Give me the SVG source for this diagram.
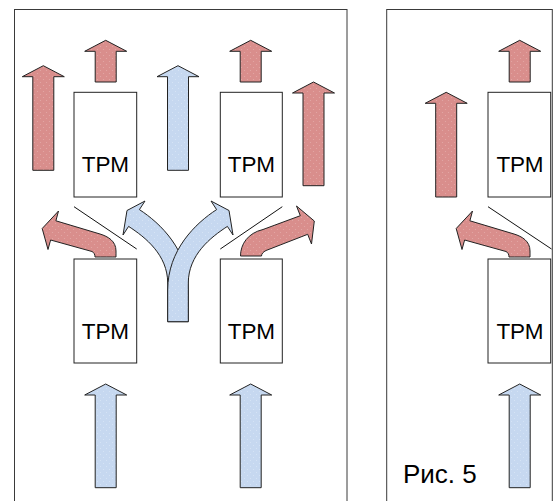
<svg xmlns="http://www.w3.org/2000/svg" width="557" height="501" viewBox="0 0 557 501">
<style>
.panel{fill:#fff;stroke:#3a3a3a;stroke-width:1}
.box{fill:#fff;stroke:#222;stroke-width:1}
.lbl{font-family:"Liberation Sans",Arial,sans-serif;font-size:22.5px;fill:#000;text-anchor:middle}
.cap{font-family:"Liberation Sans",Arial,sans-serif;font-size:26px;fill:#000}
.red{fill:url(#pr);stroke:#222;stroke-width:1;stroke-linejoin:miter}
.blue{fill:url(#pb);stroke:#222;stroke-width:1;stroke-linejoin:miter}
.ln{stroke:#111;stroke-width:1;fill:none}
</style>
<defs>
<pattern id="pr" patternUnits="userSpaceOnUse" width="6" height="6">
<rect width="6" height="6" fill="#D98E8C"/>
<circle cx="1.5" cy="1.5" r="0.6" fill="#E4A9A7"/>
<circle cx="4.5" cy="4.5" r="0.6" fill="#E4A9A7"/>
</pattern>
<pattern id="pb" patternUnits="userSpaceOnUse" width="6" height="6">
<rect width="6" height="6" fill="#C6D8F0"/>
<circle cx="1.5" cy="1.5" r="0.6" fill="#D8E5F6"/>
<circle cx="4.5" cy="4.5" r="0.6" fill="#D8E5F6"/>
</pattern>
</defs>
<rect width="557" height="501" fill="#fff"/>
<g id="panels">
<rect class="panel" x="14.5" y="9.5" width="332.5" height="500"/>
<rect class="panel" x="386.7" y="9.5" width="165.6" height="500"/>
</g>
<g id="box-top-left"><rect class="box" x="74" y="92.3" width="62.7" height="104.7"/><text class="lbl" x="105.3" y="171.7">ТРМ</text></g>
<g id="box-top-right"><rect class="box" x="220.3" y="92.3" width="62" height="104.7"/><text class="lbl" x="251.3" y="171.7">ТРМ</text></g>
<g id="box-bottom-left"><rect class="box" x="74" y="259" width="62.7" height="104"/><text class="lbl" x="105.3" y="339">ТРМ</text></g>
<g id="box-bottom-right"><rect class="box" x="220.3" y="259" width="62" height="104"/><text class="lbl" x="251.3" y="339">ТРМ</text></g>
<g id="box-r-top"><rect class="box" x="488" y="92.3" width="62.7" height="104.7"/><text class="lbl" x="520" y="171.7">ТРМ</text></g>
<g id="box-r-bottom"><rect class="box" x="488" y="259" width="62.7" height="104"/><text class="lbl" x="520" y="338.5">ТРМ</text></g>
<g id="connectors">
<line class="ln" x1="74" y1="206.7" x2="136.7" y2="249"/>
<line class="ln" x1="282.3" y1="206.7" x2="220.3" y2="249"/>
<line class="ln" x1="488" y1="206.7" x2="551.5" y2="249"/>
</g>
<g id="arrows">
<polygon id="arrA" class="red" points="43.3,65.7 64.3,76.7 53.8,76.7 53.8,170.3 32.8,170.3 32.8,76.7 22.3,76.7"/>
<polygon id="arrB" class="red" points="105.7,40.3 126.7,51.3 116.2,51.3 116.2,82 95.2,82 95.2,51.3 84.7,51.3"/>
<polygon id="arrC" class="blue" points="178,65.7 199,76.7 188.5,76.7 188.5,170.3 167.5,170.3 167.5,76.7 157,76.7"/>
<polygon id="arrD" class="red" points="250.7,40.3 271.7,51.3 261.2,51.3 261.2,82 240.2,82 240.2,51.3 229.7,51.3"/>
<polygon id="arrE" class="red" points="313.5,82 334.5,93 324,93 324,185.7 303,185.7 303,93 292.5,93"/>
<polygon id="arrF" class="blue" points="105.7,384 126.7,395 116.2,395 116.2,487.7 95.2,487.7 95.2,395 84.7,395"/>
<polygon id="arrG" class="blue" points="250.7,384 271.7,395 261.2,395 261.2,487.7 240.2,487.7 240.2,395 229.7,395"/>
<polygon id="arrR1" class="red" points="519.7,40.3 540.7,51.3 530.2,51.3 530.2,82 509.2,82 509.2,51.3 498.7,51.3"/>
<polygon id="arrR2" class="red" points="446.2,92.3 467.2,103.3 456.7,103.3 456.7,197 435.7,197 435.7,103.3 425.2,103.3"/>
<polygon id="arrR3" class="blue" points="519.7,384 540.7,395 530.2,395 530.2,487.7 509.2,487.7 509.2,395 498.7,395"/>
<path id="curveL" class="red" d="M95,257 L116,257 L116,251 C116,241 108,236.5 100,234 L55.9,220.8 L58.5,211 L42.2,228.5 L48,249.5 L50.6,240 L92,251.5 C94,252.5 95,254.5 95,257 Z"/>
<path id="curveR" class="red" d="M240.5,256 C240.5,244 248,233 263,229.5 L300.3,215.7 L296.5,206 L314.3,221 L311.5,244 L307.7,234.3 L266,250.5 C263,252 261.5,254 261.5,256 Z"/>
<path id="curveRP" class="red" d="M509,257 L530,257 L530,251 C530,241 522,236.5 514,234 L469.9,220.8 L472.5,211 L456.2,228.5 L462,249.5 L464.6,240 L506,251.5 C508,252.5 509,254.5 509,257 Z"/>
<path id="splitL" class="blue" d="M167.7,321.7 L167.7,283 C167.7,255 145.4,237.3 128.6,226.4 L123,235 L127,210.5 L145,201 L139.4,209.6 C160.4,223.2 188.3,250 188.3,290 L188.3,321.7 Z"/>
<path id="splitR" class="blue" d="M188.3,321.7 L188.3,283 C188.3,255 210.6,237.3 227.4,226.4 L233,235 L229,210.5 L211,201 L216.6,209.6 C195.6,223.2 167.7,250 167.7,290 L167.7,321.7 Z"/>
</g>
<text id="caption" class="cap" x="403" y="483.3">Рис. 5</text>
</svg>
